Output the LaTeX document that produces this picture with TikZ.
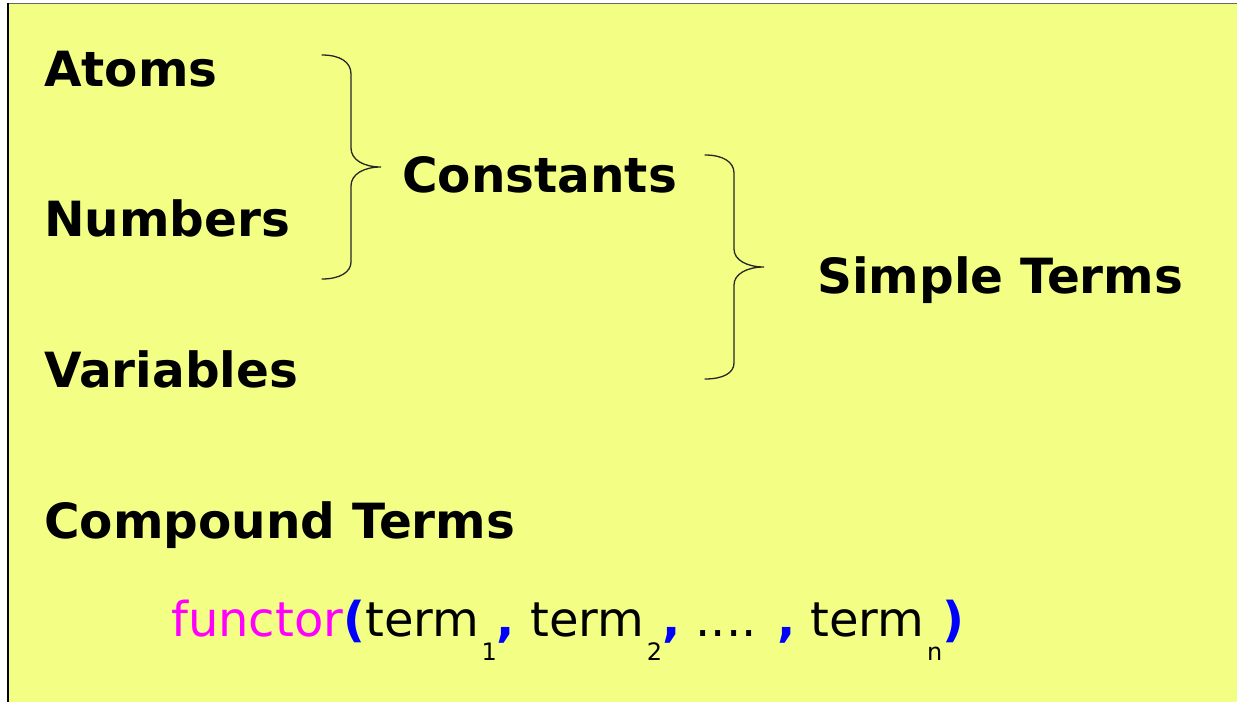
\documentclass[tikz,border=0pt]{standalone}
\usepackage{fontspec}
\setmainfont{DejaVu Sans}
\definecolor{bgyellow}{RGB}{242,255,132}
\definecolor{fmag}{RGB}{255,0,255}
\definecolor{pblue}{RGB}{0,0,255}
\newcommand{\bigtxt}{\fontsize{48.5pt}{50pt}\selectfont\bfseries}
\newcommand{\midtxt}{\fontsize{48pt}{50pt}\selectfont}
\newcommand{\subidx}[1]{\hspace{2.5pt}\raisebox{-24pt}{\fontsize{24pt}{24pt}\selectfont #1}}
\newcommand{\bc}{{\color{pblue}\bfseries ,}}
\tikzset{
  label/.style={anchor=base west, inner sep=0pt, font=\bigtxt, text=black},
  brace/.style={draw=black!85, line width=1.3pt, line cap=round}
}
\begin{document}
\begin{tikzpicture}[x=1pt,y=-1pt]
\useasboundingbox (0,0) rectangle (1237,702);
\fill[white] (0,0) rectangle (1237,702);
\fill[bgyellow] (8,4) rectangle (1237,702);
\draw[black!60, line width=1.2pt] (8,3.5) -- (1237,3.5);
\draw[black, line width=1.8pt] (8.3,3) -- (8.3,702);

\node[label] (atoms) at (44,86) {Atoms};
\node[label] (numbers) at (44,236) {Numbers};
\node[label] (variables) at (44,387) {Variables};
\node[label] (constants) at (402,192) {Constants};
\node[label] (simple) at (817,293) {Simple Terms};
\node[label] (compound) at (44,538) {Compound Terms};

\node[anchor=base west, inner sep=0pt, font=\midtxt] (functor) at (171,636)
  {{\color{fmag}functor}{\color{pblue}\bfseries (}term\subidx{1}\bc{} term\subidx{2}\bc{} .... \bc{} term\subidx{n}{\color{pblue}\bfseries )}};

% brace 1
\draw[brace] (322,55) .. controls (340,55) and (351,62) .. (351,74)
  -- (351,148) .. controls (351,160) and (364,167) .. (381,167)
  .. controls (364,167) and (351,174) .. (351,186)
  -- (351,262) .. controls (351,272) and (340,279) .. (322,279);
% brace 2
\draw[brace] (705,155) .. controls (723,155) and (734,162) .. (734,173)
  -- (734,249) .. controls (734,260) and (747,267) .. (764,267)
  .. controls (747,267) and (734,274) .. (734,285)
  -- (734,363) .. controls (734,373) and (723,379) .. (705,379);
\end{tikzpicture}
\end{document}
